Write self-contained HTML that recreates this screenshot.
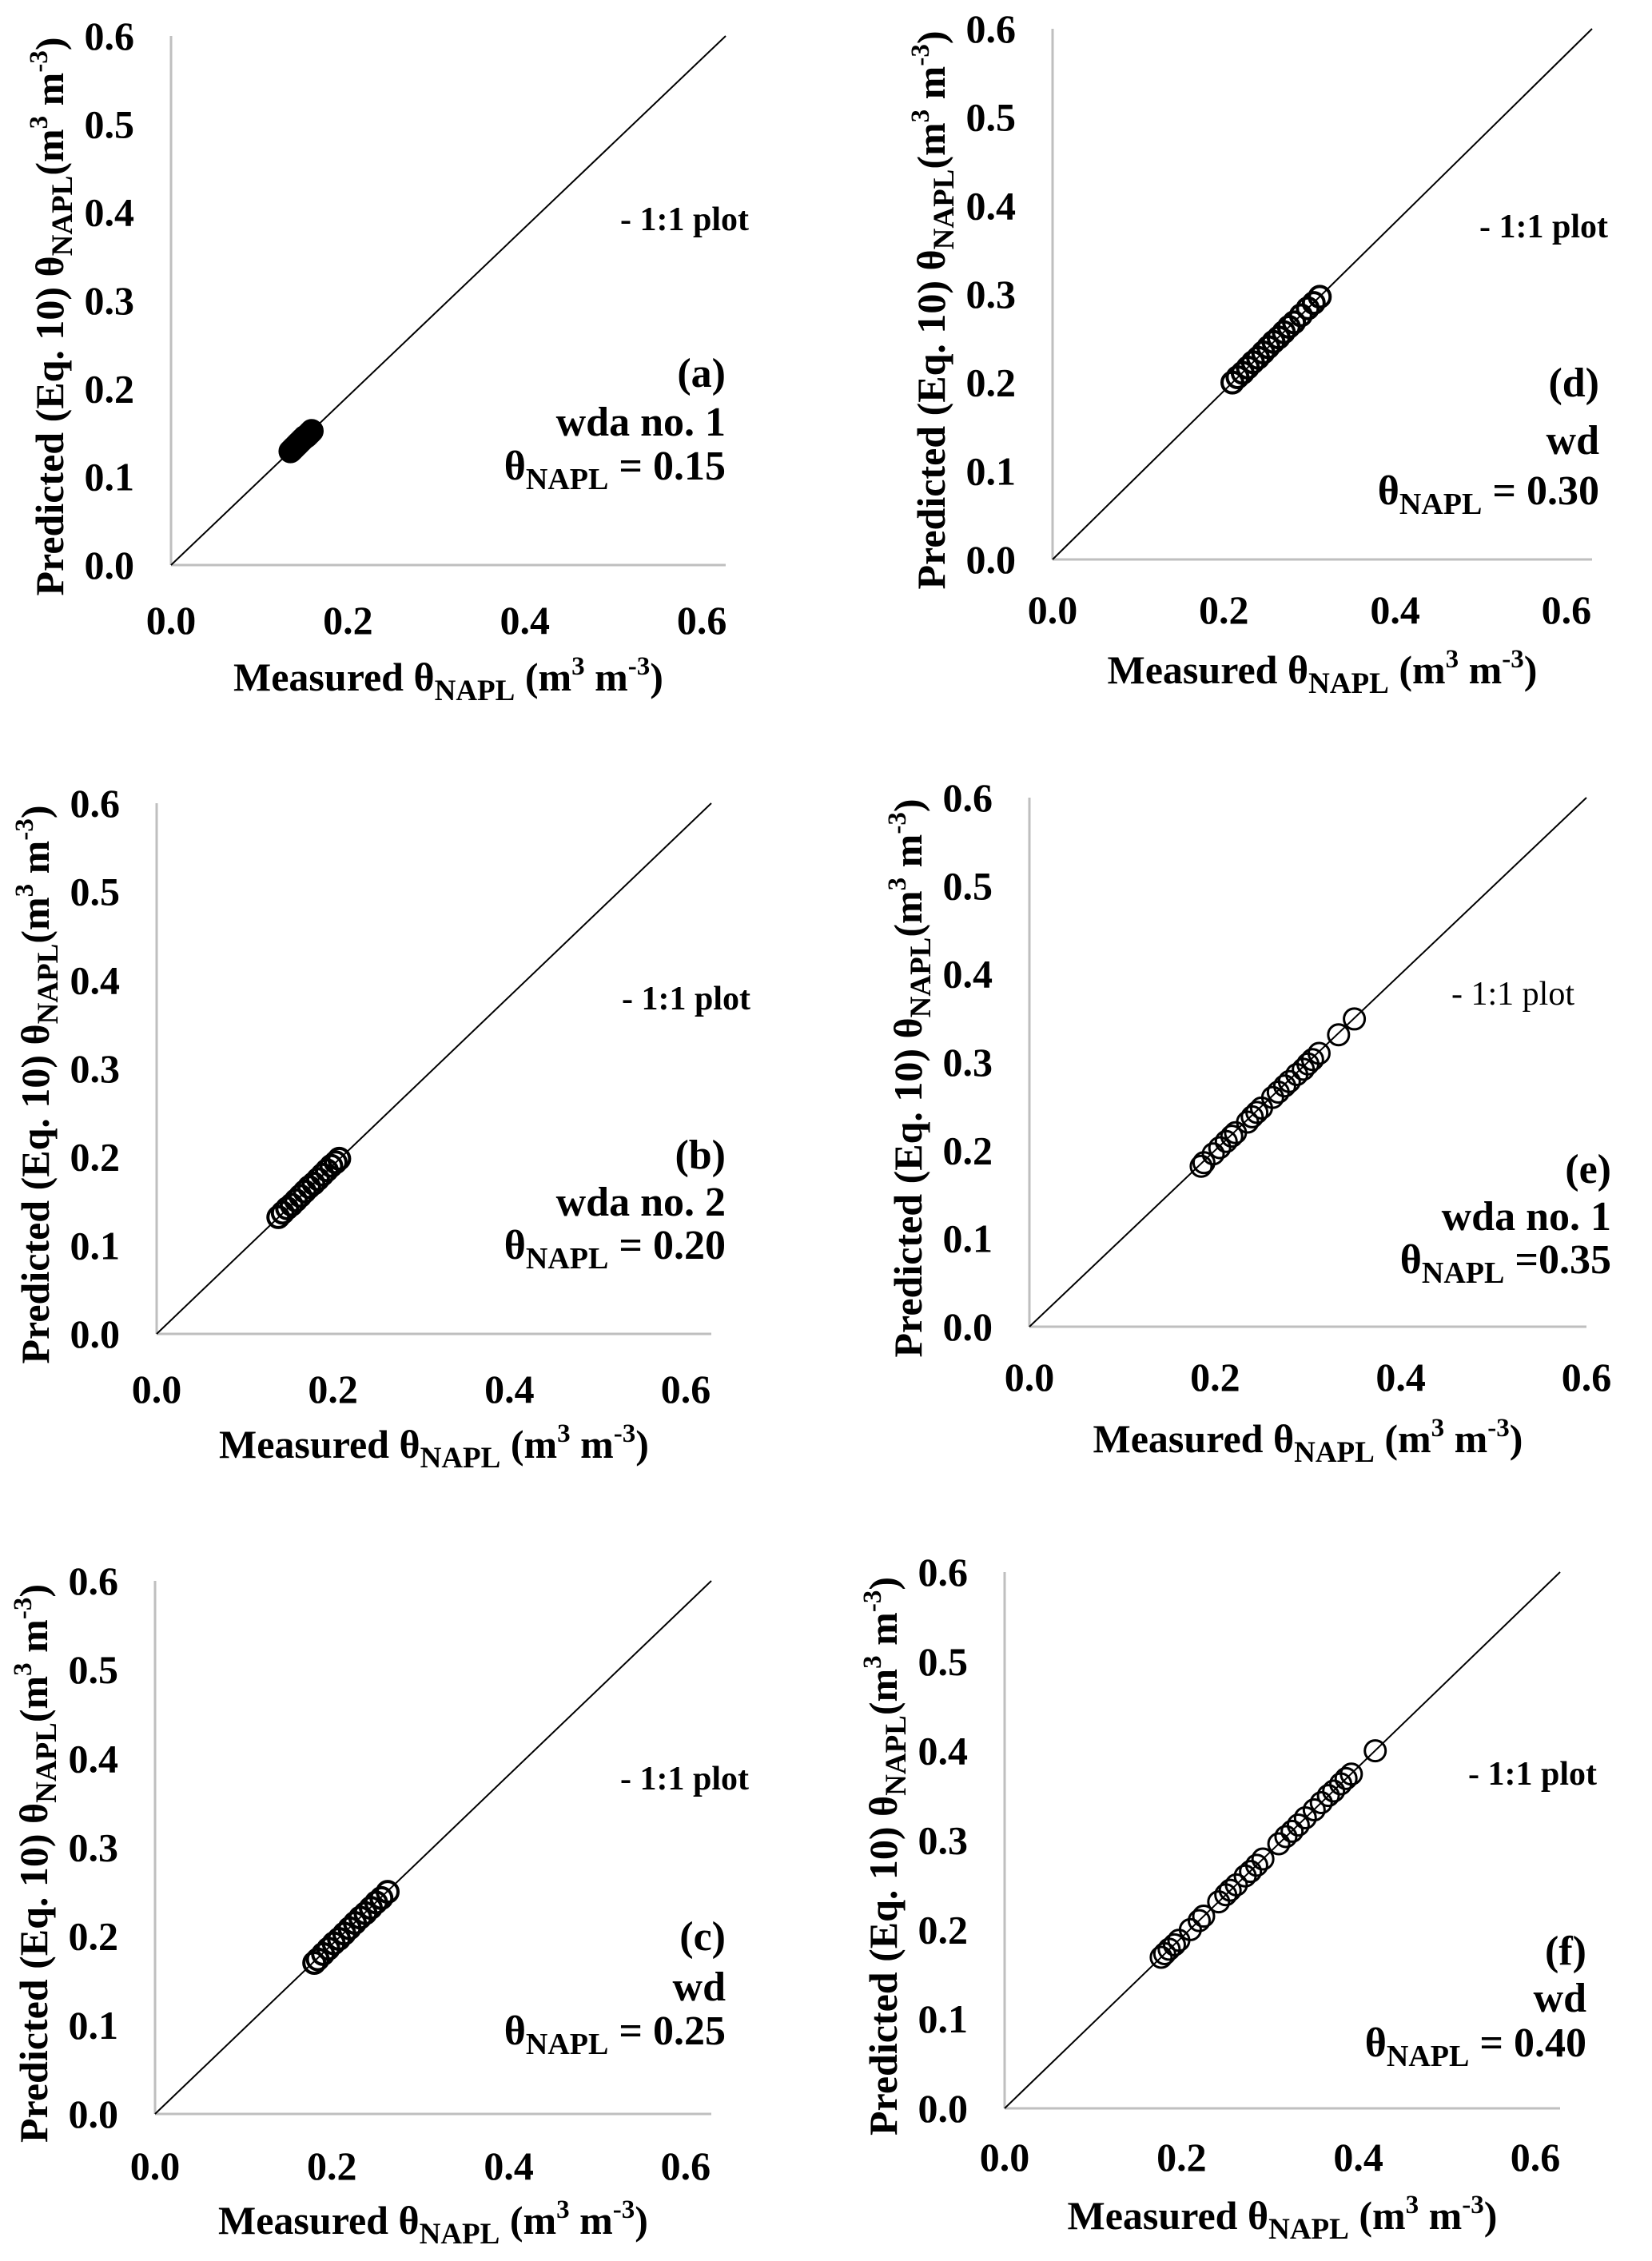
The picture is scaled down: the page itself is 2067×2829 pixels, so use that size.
<!DOCTYPE html>
<html><head><meta charset="utf-8"><style>
html,body{margin:0;padding:0;background:#fff}
svg{display:block}
text{font-family:"Liberation Serif",serif;font-weight:bold;fill:#000}
</style></head><body>
<svg id="fig" width="2067" height="2829" viewBox="0 0 2067 2829" xmlns="http://www.w3.org/2000/svg"></svg>
<script>
// ---- data (measured vs predicted theta_NAPL) ----
const measuredA=[0.135,0.137,0.139,0.141,0.143,0.145,0.147,0.149,0.151,0.153,0.155,0.157,0.159];
const predictedA=[0.129,0.131,0.133,0.135,0.137,0.139,0.141,0.143,0.145,0.146,0.148,0.150,0.152];
const measuredB=[0.138,0.143,0.148,0.153,0.158,0.163,0.168,0.173,0.178,0.183,0.188,0.193,0.198,0.203,0.207];
const predictedB=[0.132,0.137,0.142,0.146,0.151,0.156,0.161,0.166,0.170,0.175,0.180,0.185,0.190,0.194,0.198];
const measuredC=[0.180,0.184,0.190,0.196,0.202,0.208,0.214,0.220,0.226,0.232,0.238,0.244,0.250,0.256,0.263];
const predictedC=[0.170,0.174,0.180,0.186,0.192,0.197,0.203,0.209,0.215,0.221,0.226,0.232,0.238,0.243,0.250];
const measuredD=[0.210,0.216,0.222,0.228,0.234,0.240,0.246,0.252,0.258,0.264,0.270,0.276,0.282,0.290,0.298,0.305,0.312];
const predictedD=[0.200,0.206,0.211,0.217,0.223,0.228,0.234,0.240,0.246,0.251,0.257,0.263,0.268,0.276,0.284,0.290,0.297];
const measuredE=[0.185,0.188,0.198,0.205,0.212,0.218,0.222,0.235,0.240,0.245,0.250,0.262,0.268,0.275,0.280,0.288,0.295,0.300,0.305,0.312,0.333,0.350];
const predictedE=[0.182,0.186,0.196,0.203,0.210,0.216,0.220,0.232,0.238,0.243,0.248,0.260,0.266,0.273,0.278,0.286,0.292,0.298,0.303,0.310,0.331,0.349];
const measuredF=[0.177,0.181,0.186,0.192,0.197,0.210,0.220,0.225,0.242,0.250,0.255,0.262,0.272,0.278,0.285,0.292,0.310,0.318,0.325,0.332,0.340,0.350,0.358,0.366,0.372,0.380,0.386,0.392,0.419];
const predictedF=[0.169,0.173,0.178,0.183,0.188,0.200,0.210,0.215,0.231,0.239,0.244,0.250,0.260,0.265,0.272,0.279,0.296,0.304,0.310,0.317,0.325,0.334,0.342,0.350,0.355,0.363,0.369,0.374,0.400];
const yTicks=[0.0,0.1,0.2,0.3,0.4,0.5,0.6];
const xTicks=[0.0,0.2,0.4,0.6];
const panelLetters=["a","b","c","d","e","f"];
const panelMethods=["wda no. 1","wda no. 2","wd","wd","wda no. 1","wd"];
const panelTheta=["= 0.15","= 0.20","= 0.25","= 0.30","=0.35","= 0.40"];
const panelXmax=[0.627,0.629,0.629,0.63,0.6,0.628];

const layouts=[
 {L:214,R:908,T:45,B:707, oneR:937,oneY:274,labR:908,ly:[466,527,586],xtY:776,ttY:848,filled:true},
 {L:196,R:890,T:1005,B:1669, oneR:939,oneY:1249,labR:908,ly:[1444,1503,1561],xtY:1738,ttY:1808},
 {L:194,R:890,T:1978,B:2645, oneR:937,oneY:2225,labR:908,ly:[2422,2485,2544],xtY:2710,ttY:2779},
 {L:1317,R:1992,T:36,B:700, oneR:2012,oneY:283,labR:2001,ly:[478,550,617],xtY:763,ttY:839},
 {L:1288,R:1985,T:998,B:1660, oneR:1970,oneY:1243,labR:2016,ly:[1462,1521,1579],xtY:1723,ttY:1801,normalOne:true},
 {L:1257,R:1952,T:1967,B:2638, oneR:1998,oneY:2219,labR:1985,ly:[2440,2499,2559],xtY:2699,ttY:2773}
];
const allMeasured=[measuredA,measuredB,measuredC,measuredD,measuredE,measuredF];
const allPredicted=[predictedA,predictedB,predictedC,predictedD,predictedE,predictedF];

const NS="http://www.w3.org/2000/svg";
const svg=document.getElementById('fig');
function mk(tag,attrs,parent){const e=document.createElementNS(NS,tag);for(const k in attrs)e.setAttribute(k,attrs[k]);(parent||svg).appendChild(e);return e;}
function tsp(parent,txt,shift,size){const t=document.createElementNS(NS,'tspan');if(shift)t.setAttribute('baseline-shift',shift);if(size)t.setAttribute('font-size',size);t.textContent=txt;parent.appendChild(t);return t;}

layouts.forEach((p,i)=>{
  const g=mk('g',{});
  
  
  const xmax=panelXmax[i];
  const xs=v=>p.L+(v/xmax)*(p.R-p.L);
  const ys=v=>p.B-(v/0.6)*(p.B-p.T);
  const ya=mk('line',{x1:p.L,y1:p.T,x2:p.L,y2:p.B,stroke:'#bfbfbf','stroke-width':3},g);
  
  
  const xa=mk('line',{x1:p.L,y1:p.B,x2:p.R,y2:p.B,stroke:'#bfbfbf','stroke-width':3},g);
  
  
  const dl=mk('line',{x1:p.L,y1:p.B,x2:p.R,y2:p.T,stroke:'#000','stroke-width':2},g);
  
  
  yTicks.forEach(v=>{
    const t=mk('text',{x:p.L-46,y:ys(v)+17,'text-anchor':'end','font-size':50},g);
    
    
    t.textContent=v.toFixed(1);
  });
  xTicks.forEach(v=>{
    const t=mk('text',{x:xs(v),y:p.xtY+17,'text-anchor':'middle','font-size':50},g);
    
    
    t.textContent=v.toFixed(1);
  });
  const xt=mk('text',{x:(p.L+p.R)/2,y:p.ttY+16,'text-anchor':'middle','font-size':50},g);
  
  
  tsp(xt,'Measured θ');tsp(xt,'NAPL','-12',37);tsp(xt,' (m');tsp(xt,'3','20',33);tsp(xt,' m');tsp(xt,'-3','20',33);tsp(xt,')');
  const cx=p.L-152, cy=(p.T+p.B)/2+20;
  const yt=mk('text',{x:cx,y:cy,'text-anchor':'middle','font-size':50,transform:`rotate(-90 ${cx} ${cy}) translate(0 17)`},g);
  
  
  tsp(yt,'Predicted (Eq. 10) θ');tsp(yt,'NAPL','-11',37);tsp(yt,'(m');tsp(yt,'3','20',33);tsp(yt,' m');tsp(yt,'-3','20',33);tsp(yt,')');
  const o=mk('text',{x:p.oneR,y:p.oneY+14,'text-anchor':'end','font-size':42},g);
  if(p.normalOne)o.setAttribute('style','font-weight:normal');
  
  
  o.textContent='- 1:1 plot';
  const l1=mk('text',{x:p.labR,y:p.ly[0]+18,'text-anchor':'end','font-size':52},g);
  
  
  l1.textContent='('+panelLetters[i]+')';
  const l2=mk('text',{x:p.labR,y:p.ly[1]+18,'text-anchor':'end','font-size':52},g);
  
  
  l2.textContent=panelMethods[i];
  const l3=mk('text',{x:p.labR,y:p.ly[2]+14,'text-anchor':'end','font-size':52},g);
  
  
  tsp(l3,'θ');tsp(l3,'NAPL','-12',38);tsp(l3,' '+panelTheta[i]);
  const mx=allMeasured[i], py=allPredicted[i];
  const heavy=(i<4);
  mx.forEach((v,j)=>{
    const c=mk('circle',{cx:xs(v),cy:ys(py[j]),r:13,fill:p.filled?'#000':'none',stroke:'#000','stroke-width':heavy?4:3},g);
    
    
  });
});
</script>
</body></html>
